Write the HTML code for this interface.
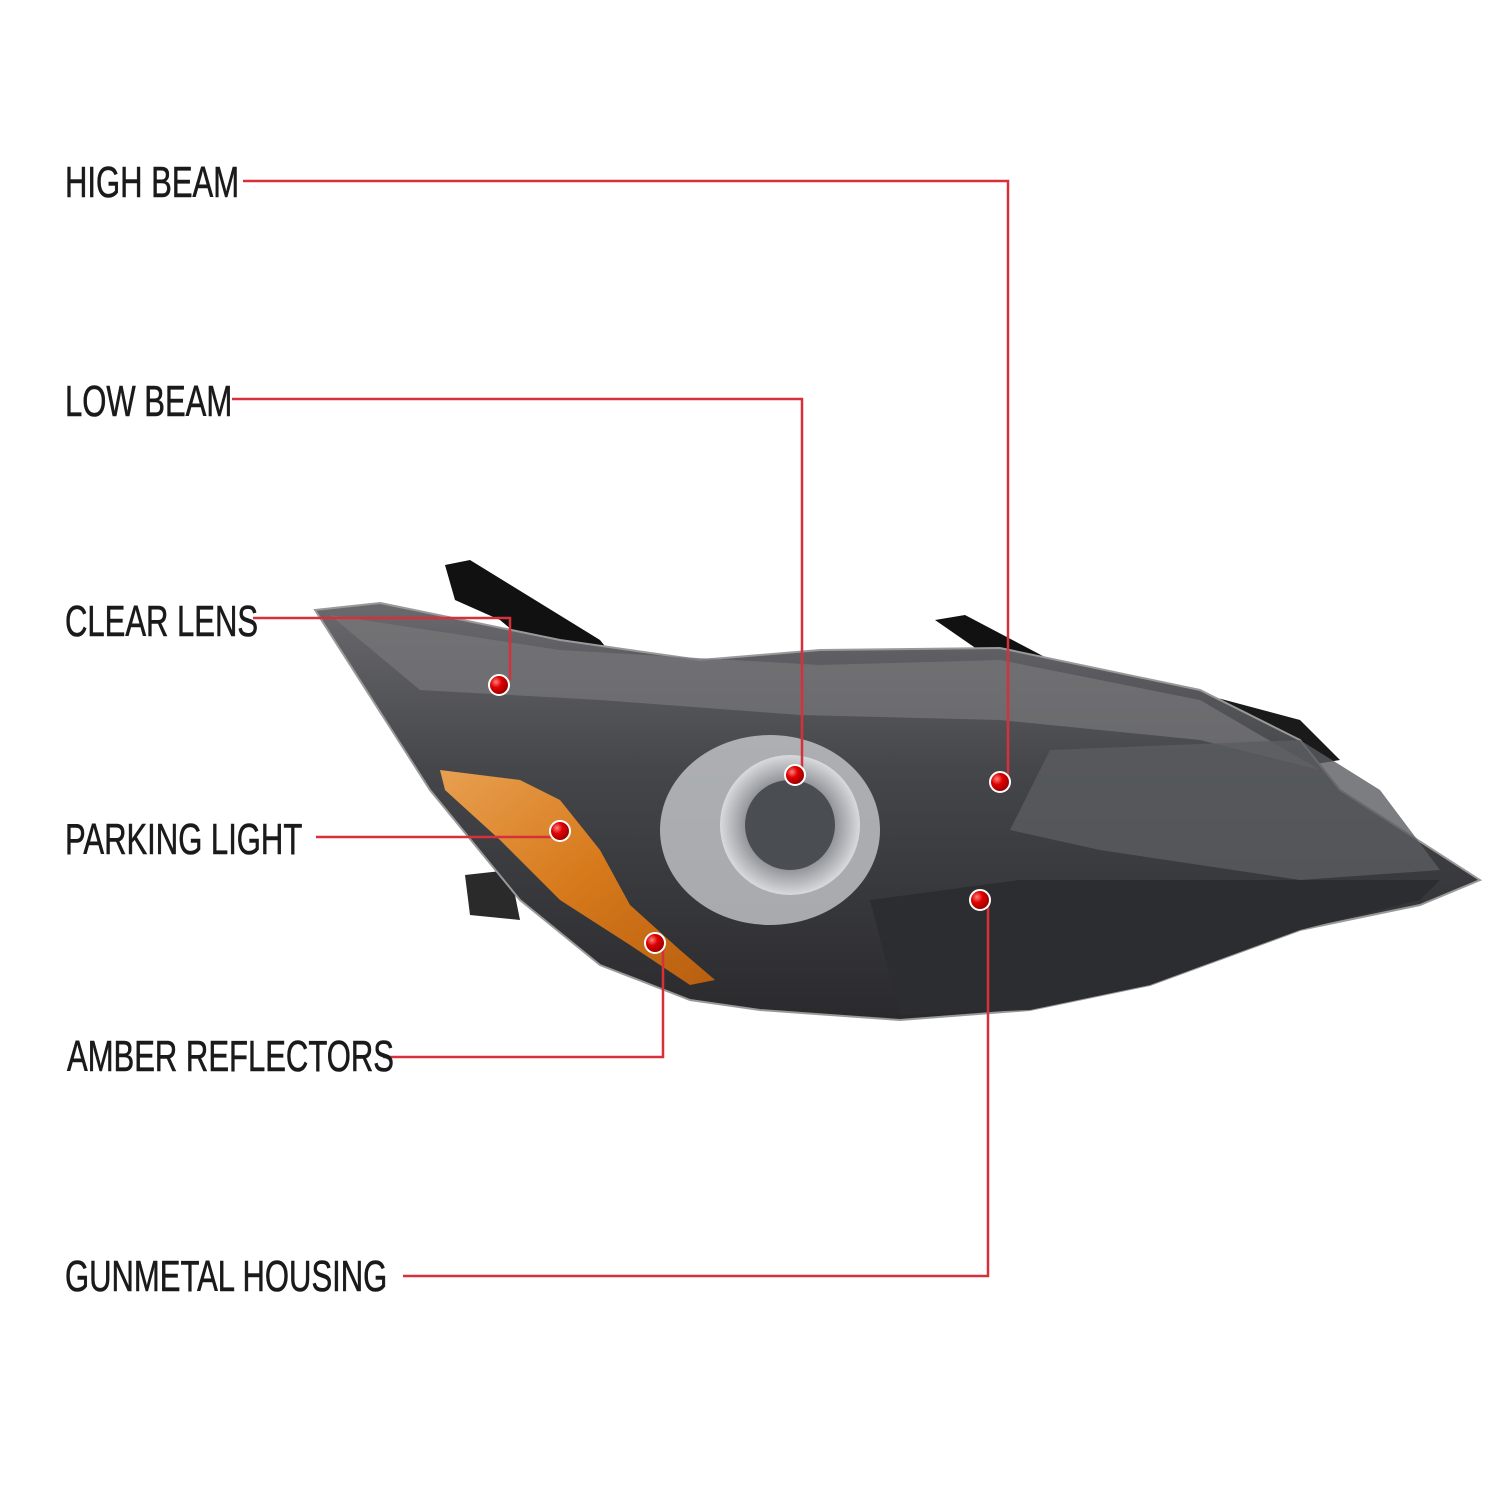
<!DOCTYPE html>
<html><head><meta charset="utf-8"><style>
body{margin:0;background:#fff;}
.wrap{position:relative;width:1500px;height:1500px;overflow:hidden;background:#fff;}
.lb{position:absolute;font-family:"Liberation Sans Narrow","Liberation Sans",sans-serif;font-size:44px;color:#1a1a1a;line-height:44px;white-space:nowrap;transform-origin:left center;transform:scaleX(0.705);-webkit-text-stroke:0.6px #1a1a1a}
svg{position:absolute;left:0;top:0}
</style></head><body><div class="wrap">
<svg width="1500" height="1500" viewBox="0 0 1500 1500">
<defs>
<linearGradient id="hg" x1="0" y1="0" x2="0" y2="1">
<stop offset="0" stop-color="#6a6a6e"/><stop offset="0.4" stop-color="#45464a"/><stop offset="1" stop-color="#2a2a2d"/></linearGradient>
<linearGradient id="ag" x1="0" y1="0" x2="1" y2="1">
<stop offset="0" stop-color="#e8a050"/><stop offset="0.5" stop-color="#d77a1c"/><stop offset="1" stop-color="#b85f10"/></linearGradient>
<radialGradient id="pg" cx="0.5" cy="0.5" r="0.5">
<stop offset="0" stop-color="#5a5d62"/><stop offset="0.6" stop-color="#8a8d92"/><stop offset="1" stop-color="#d8dadd"/></radialGradient>
<radialGradient id="dot" cx="0.35" cy="0.35" r="0.7">
<stop offset="0" stop-color="#ff8080"/><stop offset="0.4" stop-color="#e00000"/><stop offset="1" stop-color="#900000"/></radialGradient>
</defs>
<path d="M445,565 L470,560 L600,640 L620,665 L560,670 L500,620 L455,600 Z" fill="#111"/>
<path d="M935,620 L965,615 L1060,665 L1000,665 Z" fill="#111"/>
<path d="M1150,680 L1300,720 L1340,760 L1280,770 Z" fill="#1a1a1a"/>
<path d="M465,875 L510,870 L520,920 L470,915 Z" fill="#2a2a2a"/>
<path d="M315,610 L380,603 L560,640 L700,660 L820,650 L1000,648 L1200,690 L1300,740 L1340,790 L1480,880 L1420,905 L1300,930 L1150,985 L1030,1010 L900,1020 L760,1010 L690,1000 L600,965 L520,900 L430,790 Z" fill="url(#hg)" stroke="#999" stroke-width="2"/>
<path d="M330,615 L560,650 L820,665 L1000,660 L1200,700 L1320,770 L1200,740 L1000,720 L800,715 L600,700 L420,690 Z" fill="#77777b" opacity="0.7"/>
<path d="M1050,750 L1300,740 L1380,790 L1440,870 L1300,880 L1100,850 L1010,830 Z" fill="#5a5c60" opacity="0.8"/>
<path d="M870,900 L1020,880 L1440,880 L1420,900 L1300,930 L1150,985 L1030,1010 L900,1015 Z" fill="#2c2d30"/>
<path d="M440,770 L520,780 L560,800 L600,850 L630,905 L680,950 L715,980 L690,985 L630,945 L560,900 L500,840 L445,790 Z" fill="url(#ag)"/>
<ellipse cx="770" cy="830" rx="110" ry="95" fill="#c5c8cc" opacity="0.8"/>
<circle cx="790" cy="825" r="70" fill="url(#pg)"/>
<circle cx="790" cy="825" r="45" fill="#4a4d52"/>
<g stroke="#d6303a" stroke-width="2.5" fill="none">
<polyline points="243,181 1008,181 1008,778"/>
<polyline points="232,399 802,399 802,772"/>
<polyline points="253,618 510,618 510,680"/>
<polyline points="316,837 556,837"/>
<polyline points="383,1057 663,1057 663,948"/>
<polyline points="403,1276 988,1276 988,902"/>
</g>
<g fill="url(#dot)" stroke="#fff" stroke-width="2">
<circle cx="1000" cy="782" r="10"/>
<circle cx="795" cy="775" r="10"/>
<circle cx="499" cy="685" r="10"/>
<circle cx="560" cy="831" r="10"/>
<circle cx="655" cy="943" r="10"/>
<circle cx="980" cy="900" r="10"/>
</g>
</svg>
<div class="lb" style="left:65px;top:161px">HIGH BEAM</div>
<div class="lb" style="left:65px;top:380px">LOW BEAM</div>
<div class="lb" style="left:65px;top:600px">CLEAR LENS</div>
<div class="lb" style="left:65px;top:818px">PARKING LIGHT</div>
<div class="lb" style="left:67px;top:1035px">AMBER REFLECTORS</div>
<div class="lb" style="left:65px;top:1255px">GUNMETAL HOUSING</div>
</div></body></html>
